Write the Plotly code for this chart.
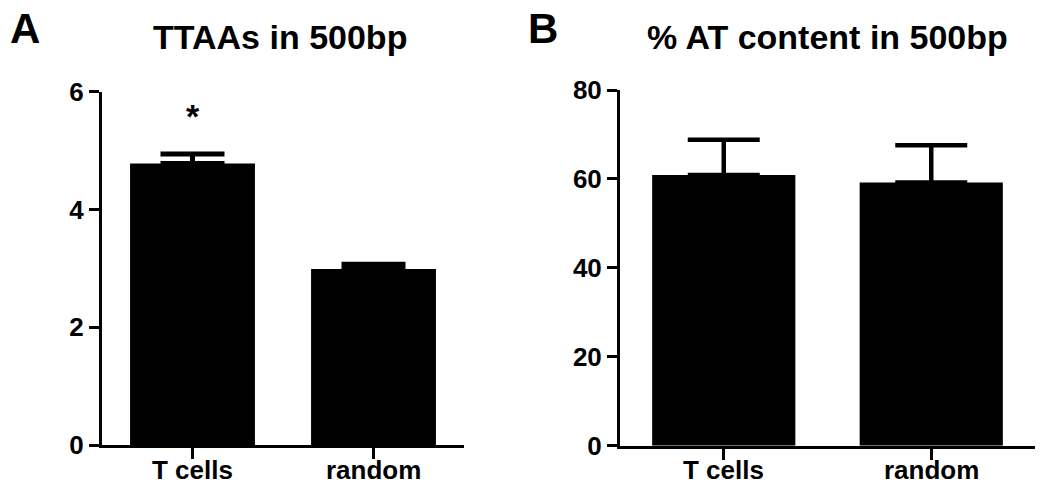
import plotly.graph_objects as go

categories = ["T cells", "random"]
ttaa_mean = [4.78, 2.99]
ttaa_err = [0.16, 0.08]
at_mean = [60.9, 59.2]
at_err = [7.9, 8.4]
ttaa_ticks = [0, 2, 4, 6]
at_ticks = [0, 20, 40, 60, 80]

FONT = "Liberation Sans"
W, H = 1050, 488
OX, OY = 8, 8  # page body margin compensation


def px(x):
    return (x - OX) / W


def py(y):
    return 1 - (y - OY) / H


fig = go.Figure()
fig.add_trace(go.Bar(
    x=categories, y=ttaa_mean, width=0.69,
    marker=dict(color="black", line=dict(width=0)),
    error_y=dict(type="data", array=ttaa_err, arrayminus=[0, 0], symmetric=False,
                 color="black", thickness=5, width=32),
    xaxis="x", yaxis="y", showlegend=False))
fig.add_trace(go.Bar(
    x=categories, y=at_mean, width=0.69,
    marker=dict(color="black", line=dict(width=0)),
    error_y=dict(type="data", array=at_err, arrayminus=[0, 0], symmetric=False,
                 color="black", thickness=4.5, width=36),
    xaxis="x2", yaxis="y2", showlegend=False))

tickfont = dict(family=FONT, size=26, color="black", weight="bold")
catfont = dict(family=FONT, size=26, color="black", weight="bold")
common_y = dict(showline=True, linecolor="black", linewidth=3, ticks="outside",
                ticklen=10, tickwidth=3, tickcolor="black", showgrid=False,
                zeroline=False, tickfont=tickfont, automargin=False)
common_x = dict(showline=True, linecolor="black", linewidth=3, ticks="outside",
                ticklen=11, tickwidth=3, tickcolor="black", showgrid=False,
                zeroline=False, showticklabels=False, range=[-0.5, 1.5], automargin=False)

fig.update_layout(
    width=W, height=H,
    margin=dict(l=0, r=0, t=0, b=0, autoexpand=False),
    paper_bgcolor="white", plot_bgcolor="white",
    xaxis=dict(domain=[px(102), px(464)], anchor="y", **common_x),
    yaxis=dict(domain=[py(445), py(91.7)], anchor="x",
               range=[0, 6], tickvals=ttaa_ticks, **common_y),
    xaxis2=dict(domain=[px(620), px(1035)], anchor="y2", **common_x),
    yaxis2=dict(domain=[py(445.7), py(90)], anchor="x2",
                range=[0, 80], tickvals=at_ticks, **common_y),
)

# category labels under each panel
for xref in ("x", "x2"):
    for c in categories:
        fig.add_annotation(text=c, x=c, xref=xref, y=py(470), yref="paper",
                           showarrow=False, font=catfont, xanchor="center", yanchor="middle")

titlefont = dict(family=FONT, size=34, color="black", weight="bold")
letterfont = dict(family=FONT, size=42, color="black", weight="bold")
fig.add_annotation(text="TTAAs in 500bp", x=px(280), y=py(37), xref="paper", yref="paper",
                   showarrow=False, font=titlefont, xanchor="center", yanchor="middle")
fig.add_annotation(text="% AT content in 500bp", x=px(827.5), y=py(37), xref="paper", yref="paper",
                   showarrow=False, font=titlefont, xanchor="center", yanchor="middle")
fig.add_annotation(text="A", x=px(8), y=py(28), xref="paper", yref="paper",
                   showarrow=False, font=letterfont, xanchor="left", yanchor="middle")
fig.add_annotation(text="B", x=px(526), y=py(28), xref="paper", yref="paper",
                   showarrow=False, font=letterfont, xanchor="left", yanchor="middle")
fig.add_annotation(text="*", x=categories[0], y=5.58, xref="x", yref="y",
                   showarrow=False, font=dict(family=FONT, size=34, color="black", weight="bold"),
                   xanchor="center", yanchor="middle")

fig.write_html("out.html")
